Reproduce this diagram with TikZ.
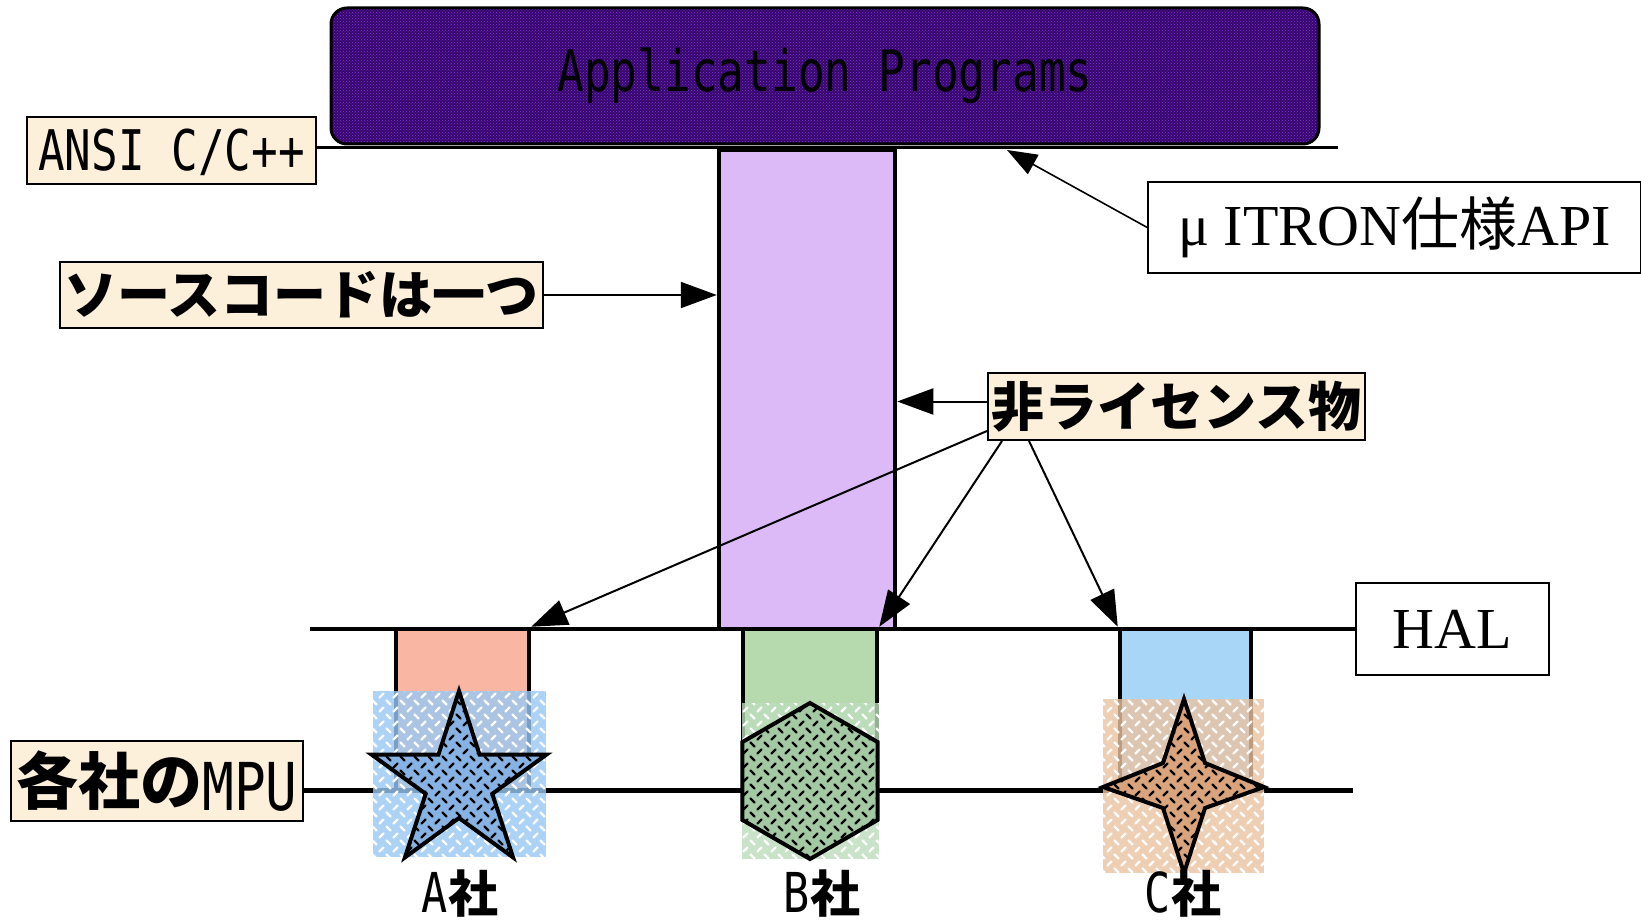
\documentclass[tikz,border=0pt]{standalone}
\usepackage{fontspec}
\usepackage{graphicx}
\usetikzlibrary{arrows.meta,patterns}
\setmainfont{Liberation Serif}
\newfontfamily\jp{Noto Sans CJK JP}
\newfontfamily\mono{DejaVu Sans Mono}
\newcommand{\mycm}[3]{{\mono\fontsize{#1}{#1}\selectfont\scalebox{#2}[1]{#3}}}
\definecolor{appfill}{HTML}{34096A}
\definecolor{appdots}{HTML}{8A2BE2}
\definecolor{colmain}{HTML}{DCBAF7}
\definecolor{colAc}{HTML}{F9B6A2}
\definecolor{colBc}{HTML}{B6DAAE}
\definecolor{colCc}{HTML}{A8D6F7}
\definecolor{sqAc}{HTML}{98C8F4}
\definecolor{sqBc}{HTML}{BCDDBC}
\definecolor{sqCc}{HTML}{EBC3A0}
\definecolor{shAc}{HTML}{86B3E3}
\definecolor{shBc}{HTML}{A3C9A3}
\definecolor{shCc}{HTML}{D9A47C}
\definecolor{beigec}{HTML}{FCF0DB}
\pgfdeclarepatternformonly{weave}{\pgfqpoint{-1pt}{-1pt}}{\pgfqpoint{15pt}{15pt}}{\pgfqpoint{14pt}{14pt}}{%
  \pgfsetlinewidth{2.4pt}\pgfsetroundcap
  \pgfpathmoveto{\pgfqpoint{1.5pt}{1.5pt}}\pgfpathlineto{\pgfqpoint{5.5pt}{5.5pt}}
  \pgfpathmoveto{\pgfqpoint{8.5pt}{12.5pt}}\pgfpathlineto{\pgfqpoint{12.5pt}{8.5pt}}
  \pgfusepath{stroke}}
\begin{document}
\begin{tikzpicture}[x=1pt,y=-1pt,
  box/.style={draw=black, line width=2pt, inner sep=2pt, align=center},
  colbox/.style={draw=black, line width=4.5pt, inner sep=0pt},
  sq/.style={preaction={fill=#1, fill opacity=0.8}, pattern=weave, pattern color=white},
  shp/.style={draw=black, line width=4pt, preaction={fill=#1}, pattern=weave, pattern color=black},
  arr/.style={line width=2pt, -{Triangle[length=36pt,width=26pt]}},
  arrthin/.style={line width=1.6pt, -{Triangle[length=30pt,width=22pt]}}]
\useasboundingbox (0,0) rectangle (1641,923);
\fill[white] (0,0) rectangle (1641,923);
% application box
\node[draw=black, line width=3pt, rounded corners=16pt,
      preaction={fill=appfill}, pattern=crosshatch dots, pattern color=appdots,
      minimum width=988pt, minimum height=136pt, text height=42pt, text depth=10pt]
      (app) at (825,76) {\mycm{57}{0.78}{Application Programs}};
% columns
\node[colbox, fill=colmain, minimum width=176pt, minimum height=479pt] (col) at (807,389.5) {};
\node[colbox, fill=colAc, minimum width=133pt, minimum height=161pt] (colA) at (462.5,709.5) {};
\node[colbox, fill=colBc, minimum width=134pt, minimum height=161pt] (colB) at (810,709.5) {};
\node[colbox, fill=colCc, minimum width=131pt, minimum height=161pt] (colC) at (1185.5,709.5) {};
% label boxes
\node[box, fill=beigec, minimum width=289pt, minimum height=67pt, text height=41pt, text depth=0pt]
  (ansi) at (171.5,150.5) {\mycm{56}{0.79}{ANSI C/C++}};
\node[box, fill=beigec, minimum width=483pt, minimum height=66pt, inner sep=0pt]
  (src) at (301.5,295) {\jp\bfseries\fontsize{53}{53}\selectfont ソースコードは一つ};
\node[box, fill=white, line width=1.5pt, minimum width=493pt, minimum height=91pt]
  (itron) at (1394.5,227.5) {\fontsize{58}{60}\selectfont μ ITRON{\jp 仕様}API};
\node[box, fill=beigec, minimum width=377pt, minimum height=67pt, inner sep=0pt]
  (nonlic) at (1176.5,406.5) {\jp\bfseries\fontsize{53}{53}\selectfont 非ライセンス物};
\node[box, fill=white, line width=1.5pt, minimum width=193pt, minimum height=92pt]
  (hal) at (1452.5,629) {\fontsize{58}{60}\selectfont HAL};
\node[box, fill=beigec, minimum width=292pt, minimum height=80pt, inner sep=0pt]
  (mpu) at (157,781) {{\jp\bfseries\fontsize{62}{62}\selectfont 各社の}\raisebox{-6pt}{\mycm{66}{0.8}{MPU}}};
% horizontal layer lines
\coordinate (ansiR) at (1338,148);
\draw[line width=3pt] (ansi.east |- ansiR) -- (ansiR);
\coordinate (halL) at (310,629);
\draw[line width=4.5pt] (halL) -- (hal.west);
\coordinate (mpuR) at (1353,790);
\draw[line width=5pt] (mpu.east |- mpuR) -- (mpuR);
% MPU squares
\path[sq=sqAc] (373,691) rectangle (546,857);
\path[sq=sqBc] (742,703) rectangle (879,859);
\path[sq=sqCc] (1103,699) rectangle (1264,873);
% MPU shapes
\begin{scope}[shift={(459,783)}]
\draw[shp=shAc, line join=miter] (-90:92) -- (-54:35) -- (-18:92) -- (18:35) -- (54:92) -- (90:35)
  -- (126:92) -- (162:35) -- (198:92) -- (234:35) -- cycle;
\end{scope}
\begin{scope}[shift={(810,781)}]
\draw[shp=shBc] (-90:78) -- (-30:78) -- (30:78) -- (90:78) -- (150:78) -- (210:78) -- cycle;
\end{scope}
\draw[shp=shCc] (1184,699) -- (1205,763) -- (1264,787) -- (1205,808) -- (1184,873)
  -- (1163,808) -- (1103,787) -- (1163,763) -- cycle;
% company labels
\node[anchor=base] (lA) at (460,912) {\mycm{55}{0.79}{A}{\jp\bfseries\fontsize{50}{50}\selectfont 社}};
\node[anchor=base] (lB) at (822,912) {\mycm{55}{0.79}{B}{\jp\bfseries\fontsize{50}{50}\selectfont 社}};
\node[anchor=base] (lC) at (1183,912) {\mycm{55}{0.79}{C}{\jp\bfseries\fontsize{50}{50}\selectfont 社}};
% arrows
\draw[arr] (src.east) -- (src.east -| col.west);
\coordinate (nlw) at ([yshift=5pt]nonlic.west);
\draw[arr] (nlw) -- (nlw -| col.east);
\draw[arr] ([yshift=10pt]nonlic.south west) -- (colA.north east);
\draw[arr] ([xshift=15pt]nonlic.south west) -- (colB.north east);
\draw[arr] ([xshift=42pt]nonlic.south west) -- (colC.north west);
\coordinate (apiT) at (1007,150);
\draw[arrthin] (itron.west) -- (apiT);
\end{tikzpicture}
\end{document}
